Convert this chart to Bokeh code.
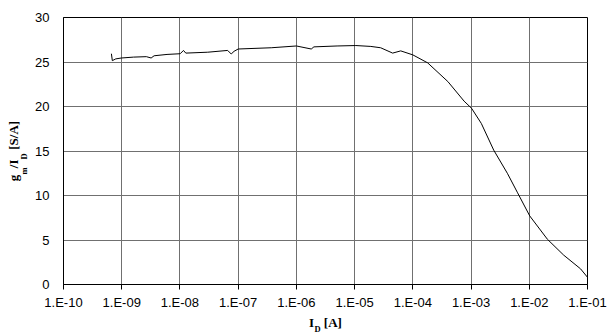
import math
from bokeh.plotting import figure
from bokeh.models import FixedTicker, CustomJSTickFormatter, Label, Range1d
from bokeh.embed import file_html
from bokeh.resources import INLINE

# Drain current I_D [A] and transconductance efficiency gm/ID [S/A]
id_a = [6.65e-10, 6.9e-10, 7.9e-10, 9.9e-10, 1.6e-9, 2.65e-9, 3.2e-9, 3.6e-9,
        6.0e-9, 1.01e-8, 1.15e-8, 1.26e-8, 3.0e-8, 6.6e-8, 7.6e-8, 8.5e-8,
        1.0e-7, 3.7e-7, 1.0e-6, 1.8e-6, 2.0e-6, 5.0e-6, 1.05e-5, 1.9e-5,
        2.8e-5, 4.5e-5, 6.2e-5, 1.0e-4, 1.8e-4, 4.0e-4, 7.6e-4, 1.02e-3,
        1.5e-3, 2.45e-3, 4.2e-3, 6.3e-3, 1.02e-2, 2.05e-2, 3.9e-2, 7.6e-2, 1.0e-1]
gm_id = [25.93, 25.15, 25.35, 25.45, 25.55, 25.6, 25.45, 25.7,
         25.85, 25.93, 26.3, 26.0, 26.1, 26.3, 25.9, 26.2,
         26.46, 26.6, 26.8, 26.46, 26.7, 26.8, 26.85, 26.75,
         26.6, 26.0, 26.25, 25.8, 24.9, 22.8, 20.6, 19.8,
         18.1, 15.1, 12.5, 10.3, 7.7, 5.08, 3.3, 1.76, 0.81]

x_ticks = [1e-10, 1e-9, 1e-8, 1e-7, 1e-6, 1e-5, 1e-4, 1e-3, 1e-2, 1e-1]
x_tick_labels = ["1.E-10", "1.E-09", "1.E-08", "1.E-07", "1.E-06",
                 "1.E-05", "1.E-04", "1.E-03", "1.E-02", "1.E-01"]
y_ticks = [0, 5, 10, 15, 20, 25, 30]

NB = "\u00a0"
x_title = "I" + NB * 3 + "[A]"          # subscript D drawn separately
y_title = "g" + NB * 2 + "/I" + NB * 3 + "[S/A]"   # subscripts m, D drawn separately

p = figure(width=615, height=334, x_axis_type="log",
           x_range=Range1d(1e-10, 1e-1), y_range=Range1d(0, 30),
           output_backend="svg", toolbar_location=None,
           min_border_left=63, min_border_right=28,
           min_border_top=17, min_border_bottom=50)
p.background_fill_color = "white"
p.border_fill_color = "white"
p.outline_line_color = "black"
p.outline_line_width = 1

p.line(id_a, gm_id, line_color="black", line_width=1)

p.xaxis.ticker = FixedTicker(ticks=x_ticks)
p.yaxis.ticker = FixedTicker(ticks=y_ticks)
p.xaxis.formatter = CustomJSTickFormatter(args=dict(labels=x_tick_labels), code="""
const i = Math.round(Math.log10(tick)) + 10;
return labels[i];
""")
p.xgrid.ticker = FixedTicker(ticks=x_ticks)
p.ygrid.ticker = FixedTicker(ticks=y_ticks)
p.grid.grid_line_color = "#707070"
p.grid.grid_line_width = 1

for ax in (p.xaxis, p.yaxis):
    ax.axis_line_color = "black"
    ax.major_tick_line_color = "black"
    ax.minor_tick_line_color = None
    ax.major_tick_in = 0
    ax.major_label_text_font = "Liberation Sans"
    ax.major_label_text_font_size = "13px"
    ax.major_label_text_color = "black"
    ax.axis_label_text_font = "Liberation Serif"
    ax.axis_label_text_font_style = "bold"
    ax.axis_label_text_font_size = "13px"
    ax.axis_label_text_color = "black"
p.xaxis.major_tick_out = 5
p.xaxis.major_label_standoff = 5
p.yaxis.major_tick_out = 0
p.yaxis.major_label_standoff = 14
p.xaxis.axis_label = x_title
p.yaxis.axis_label = y_title
p.xaxis.axis_label_standoff = 2
p.yaxis.axis_label_standoff = 11

def sub(text, x, y, place, angle=0.0):
    p.add_layout(Label(x=x, y=y, x_units="canvas", y_units="canvas", text=text,
                       angle=angle, text_font="Liberation Serif",
                       text_font_style="bold", text_font_size="8.5px",
                       text_color="black", text_baseline="alphabetic",
                       text_align="left"), place)

# subscripts (canvas coordinates, measured from the top-left corner)
sub("D", 313.9, 328.5, "right")
sub("m", 23.5, 174.0, "above", math.pi / 2)
sub("D", 23.5, 159.0, "right", math.pi / 2)

open("out.html", "w").write(file_html(p, INLINE))
